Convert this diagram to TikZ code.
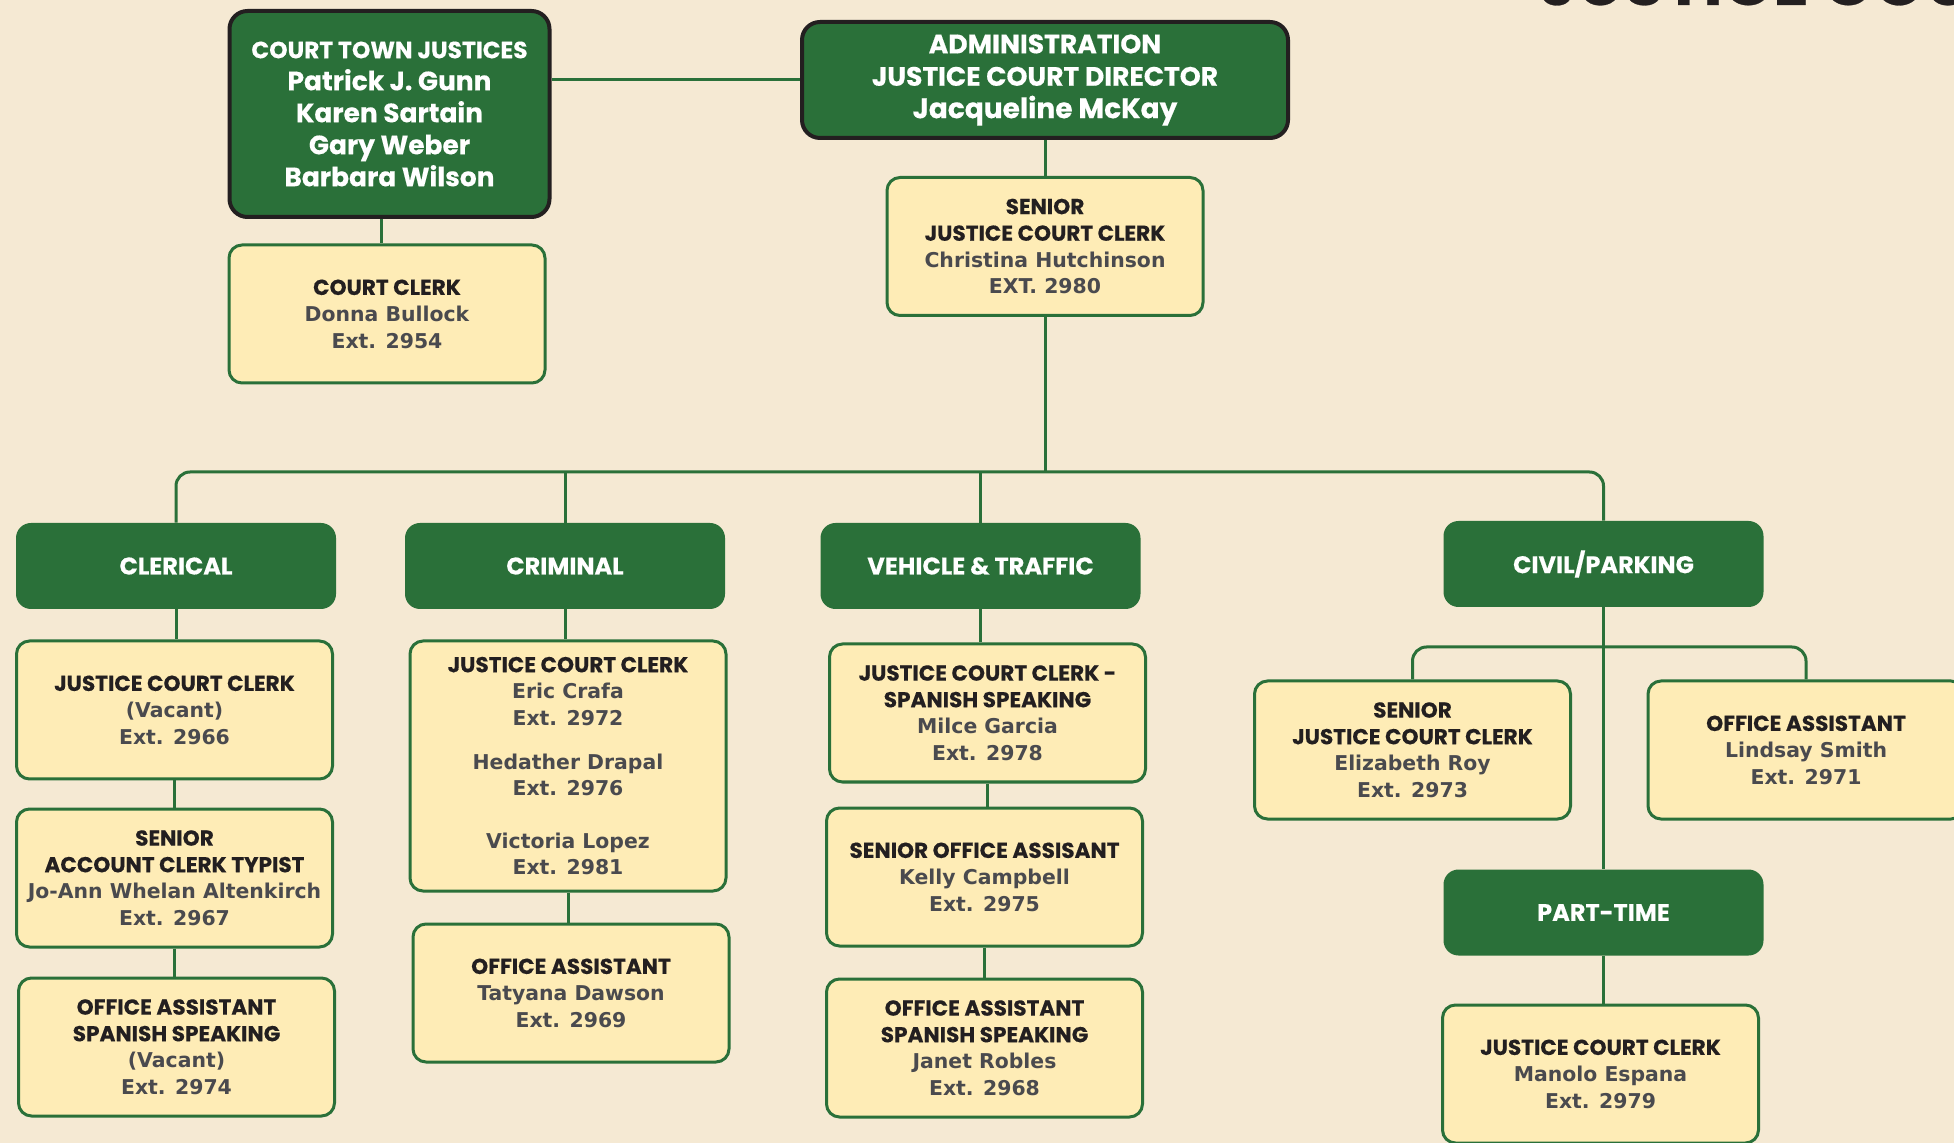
\documentclass[tikz,border=0pt]{standalone}
\usepackage{fontspec}
\newfontfamily\ttlfont{Poppins}[BoldFeatures={FakeBold=0.4}]
\newfontfamily\namefont{DejaVu Sans}

\definecolor{bgcream}{RGB}{245,233,211}
\definecolor{courtgreen}{RGB}{42,112,57}
\definecolor{clerkfill}{RGB}{254,236,182}
\definecolor{inkblack}{RGB}{35,31,32}
\definecolor{namegray}{RGB}{74,74,78}

\newcommand{\roletxt}[1]{{\ttlfont\bfseries\color{inkblack}#1}}
\newcommand{\whotxt}[1]{{\namefont\bfseries\fontsize{10.2}{13.3}\selectfont\color{namegray}#1}}
\newcommand{\headname}[1]{{\fontsize{13.2}{16}\selectfont#1}}

\tikzstyle{headbox}=[draw=inkblack,line width=2pt,fill=courtgreen,rounded corners=9pt,text=white,align=center,font=\ttlfont\bfseries\fontsize{11.7}{16}\selectfont]
\tikzstyle{deptbox}=[fill=courtgreen,rounded corners=7.5pt,minimum width=160pt,minimum height=43pt,text=white,font=\ttlfont\bfseries\fontsize{12}{14}\selectfont]
\tikzstyle{clerkbox}=[draw=courtgreen,line width=1.5pt,fill=clerkfill,rounded corners=6.5pt,minimum width=158pt,minimum height=69pt,inner sep=0pt,align=center,font=\fontsize{10.8}{13.3}\selectfont]
\tikzstyle{link}=[draw=courtgreen,line width=1.5pt]

\begin{document}
\begin{tikzpicture}[x=0.5pt,y=-0.5pt]
  \fill[bgcream] (0,0) rectangle (1954,1143);
  \useasboundingbox (0,0) rectangle (1954,1143);

  \node[anchor=base west,text=inkblack,font=\ttlfont\bfseries\fontsize{33}{40}\selectfont] (banner) at (1532,5) {JUSTICE COURT};

  \node[headbox,minimum width=160pt,minimum height=103pt] (towns) at (389.5,114) {COURT TOWN JUSTICES\\\headname{Patrick J. Gunn}\\\headname{Karen Sartain}\\\headname{Gary Weber}\\\headname{Barbara Wilson}};
  \node[headbox,minimum width=243pt,minimum height=58pt,font=\ttlfont\bfseries\fontsize{13.3}{16.2}\selectfont] (admin) at (1045,80) {ADMINISTRATION\\JUSTICE COURT DIRECTOR\\{\fontsize{14}{16.2}\selectfont Jacqueline McKay}};

  \node[clerkbox] (cclerk) at (387,314) {\roletxt{COURT CLERK}\\\whotxt{Donna Bullock}\\\whotxt{Ext. 2954}};
  \node[clerkbox] (sjcc) at (1045,246.5) {\roletxt{SENIOR}\\\roletxt{JUSTICE COURT CLERK}\\\whotxt{Christina Hutchinson}\\\whotxt{EXT. 2980}};

  \node[deptbox] (clerical) at (176,566) {CLERICAL};
  \node[deptbox] (criminal) at (565,566) {CRIMINAL};
  \node[deptbox] (vehicle) at (980.5,566) {VEHICLE \& TRAFFIC};
  \node[deptbox] (civil) at (1603.5,564) {CIVIL/PARKING};
  \node[deptbox] (parttime) at (1603.5,912.5) {PART-TIME};

  \node[clerkbox] (cler1) at (174.5,710) {\roletxt{JUSTICE COURT CLERK}\\\whotxt{(Vacant)}\\\whotxt{Ext. 2966}};
  \node[clerkbox] (cler2) at (174.5,878) {\roletxt{SENIOR}\\\roletxt{ACCOUNT CLERK TYPIST}\\\whotxt{Jo-Ann Whelan Altenkirch}\\\whotxt{Ext. 2967}};
  \node[clerkbox] (cler3) at (176.5,1047) {\roletxt{OFFICE ASSISTANT}\\\roletxt{SPANISH SPEAKING}\\\whotxt{(Vacant)}\\\whotxt{Ext. 2974}};

  \node[clerkbox,minimum height=125pt] (crim1) at (568,766) {\roletxt{JUSTICE COURT CLERK}\\\whotxt{Eric Crafa}\\\whotxt{Ext. 2972}\\[8.5pt]\whotxt{Hedather Drapal}\\\whotxt{Ext. 2976}\\[13pt]\whotxt{Victoria Lopez}\\\whotxt{Ext. 2981}};
  \node[clerkbox] (crim2) at (571,993) {\roletxt{OFFICE ASSISTANT}\\\whotxt{Tatyana Dawson}\\\whotxt{Ext. 2969}};

  \node[clerkbox] (veh1) at (987.5,713) {\roletxt{JUSTICE COURT CLERK -}\\\roletxt{SPANISH SPEAKING}\\\whotxt{Milce Garcia}\\\whotxt{Ext. 2978}};
  \node[clerkbox] (veh2) at (984.5,877) {\roletxt{SENIOR OFFICE ASSISANT}\\\whotxt{Kelly Campbell}\\\whotxt{Ext. 2975}};
  \node[clerkbox] (veh3) at (984.5,1048) {\roletxt{OFFICE ASSISTANT}\\\roletxt{SPANISH SPEAKING}\\\whotxt{Janet Robles}\\\whotxt{Ext. 2968}};

  \node[clerkbox] (civ1) at (1412.5,750) {\roletxt{SENIOR}\\\roletxt{JUSTICE COURT CLERK}\\\whotxt{Elizabeth Roy}\\\whotxt{Ext. 2973}};
  \node[clerkbox] (civ2) at (1806,750) {\roletxt{OFFICE ASSISTANT}\\\whotxt{Lindsay Smith}\\\whotxt{Ext. 2971}};
  \node[clerkbox] (part1) at (1600.5,1074) {\roletxt{JUSTICE COURT CLERK}\\\whotxt{Manolo Espana}\\\whotxt{Ext. 2979}};

  \coordinate (bus) at (1045,472);
  \coordinate (civbus) at (1603.5,647);

  \draw[link] (admin.west) -- (admin.west -| towns.east);
  \draw[link] ([xshift=-4pt]towns.south) -- ([xshift=-4pt]towns.south |- cclerk.north);
  \draw[link] (admin.south) -- (sjcc.north);
  \draw[link] (sjcc.south) -- (bus);
  \draw[link,rounded corners=7pt] (clerical.north) |- (bus) -| (civil.north);
  \draw[link] (criminal.north) -- (criminal.north |- bus);
  \draw[link] (vehicle.north) -- (vehicle.north |- bus);

  \draw[link] (clerical.south) -- (clerical.south |- cler1.north);
  \draw[link] (cler1.south) -- (cler1.south |- cler2.north);
  \draw[link] (cler2.south) -- (cler2.south |- cler3.north);
  \draw[link] (criminal.south) -- (criminal.south |- crim1.north);
  \draw[link] (crim1.south) -- (crim1.south |- crim2.north);
  \draw[link] (vehicle.south) -- (vehicle.south |- veh1.north);
  \draw[link] (veh1.south) -- (veh1.south |- veh2.north);
  \draw[link] (veh2.south) -- (veh2.south |- veh3.north);

  \draw[link] (civil.south) -- (parttime.north);
  \draw[link,rounded corners=7pt] (civ1.north) |- (civbus) -| (civ2.north);
  \draw[link] (parttime.south) -- (parttime.south |- part1.north);
\end{tikzpicture}
\end{document}
